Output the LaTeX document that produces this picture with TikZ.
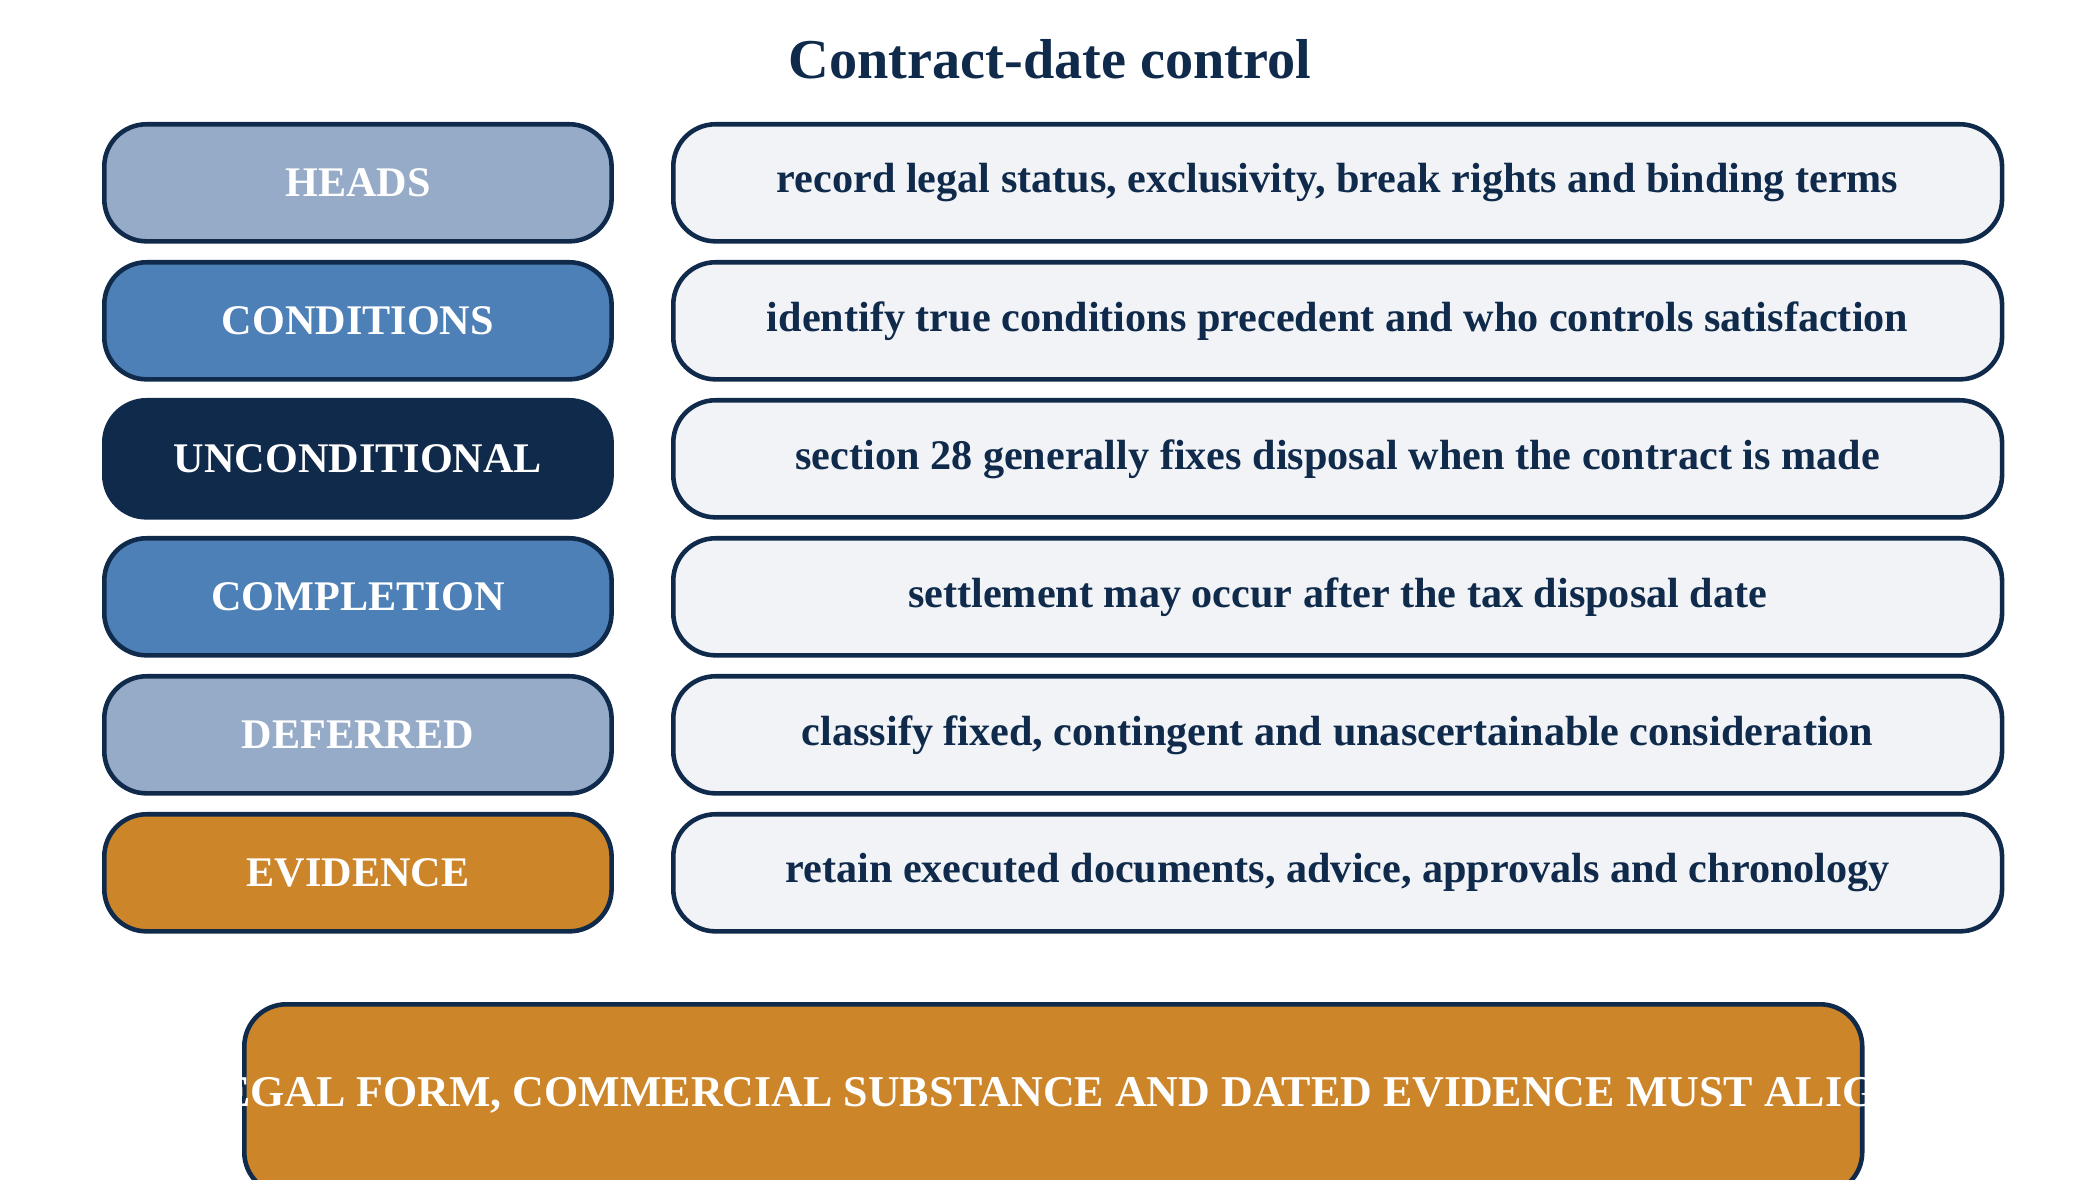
\documentclass[tikz,border=0pt]{standalone}
\usepackage{fontspec}
\setmainfont{Liberation Serif}
\definecolor{navy}{HTML}{0F2A4A}
\definecolor{lblue}{HTML}{95ABC8}
\definecolor{mblue}{HTML}{4D80B6}
\definecolor{orng}{HTML}{CC8529}
\definecolor{pale}{HTML}{F1F3F7}
\begin{document}
\begin{tikzpicture}[x=0.01cm,y=-0.01cm,
  box/.style={draw=navy,line width=1.3pt,rounded corners=12pt,anchor=north west,inner sep=0pt,font=\bfseries\fontsize{12}{14}\selectfont},
  lab/.style={box,minimum width=507\pgflinewidth*0+5.07cm,minimum height=1.17cm,text=white},
  desc/.style={box,fill=pale,minimum width=13.28cm,minimum height=1.17cm,text=navy}]
\useasboundingbox (0,0) rectangle (2100,1180);
\node[font=\bfseries\fontsize{16}{19}\selectfont,text=navy] (title) at (1050,59) {Contract-date control};
\node[lab,fill=lblue] (l1) at (102,122) {HEADS};
\node[desc] (d1) at (671,122) {record legal status, exclusivity, break rights and binding terms};
\node[lab,fill=mblue] (l2) at (102,260) {CONDITIONS};
\node[desc] (d2) at (671,260) {identify true conditions precedent and who controls satisfaction};
\node[lab,fill=navy] (l3) at (102,398) {UNCONDITIONAL};
\node[desc] (d3) at (671,398) {section 28 generally fixes disposal when the contract is made};
\node[lab,fill=mblue] (l4) at (102,536) {COMPLETION};
\node[desc] (d4) at (671,536) {settlement may occur after the tax disposal date};
\node[lab,fill=lblue] (l5) at (102,674) {DEFERRED};
\node[desc] (d5) at (671,674) {classify fixed, contingent and unascertainable consideration};
\node[lab,fill=orng] (l6) at (102,812) {EVIDENCE};
\node[desc] (d6) at (671,812) {retain executed documents, advice, approvals and chronology};
\node[box,fill=orng,text=white,minimum width=16.17cm,minimum height=1.9cm] (b) at (242,1002) {};
\node[font=\bfseries\fontsize{12.5}{15}\selectfont,text=white] (bt) at (1050,1095) {LEGAL FORM, COMMERCIAL SUBSTANCE AND DATED EVIDENCE MUST ALIGN};
\end{tikzpicture}
\end{document}
